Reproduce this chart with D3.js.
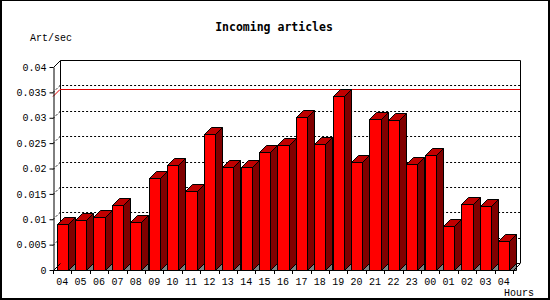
<!DOCTYPE html>
<html>
<head>
<meta charset="utf-8">
<script src="https://cdn.jsdelivr.net/npm/d3@7"></script>
<style>
  html, body { margin: 0; padding: 0; background: #fff; }
  svg { display: block; }
  text { font-family: "Liberation Mono", "DejaVu Sans Mono", monospace; fill: #000; }
</style>
</head>
<body>
<svg id="chart" width="550" height="300"></svg>
<script>
const categories = ["04","05","06","07","08","09","10","11","12","13","14","15","16","17","18","19","20","21","22","23","00","01","02","03","04"];
const values = [0.0090,0.0098,0.0104,0.0128,0.0095,0.0181,0.0207,0.0156,0.0268,0.0202,0.0202,0.0232,0.0246,0.0301,0.0248,0.0343,0.0213,0.0297,0.0295,0.0208,0.0226,0.0087,0.0131,0.0126,0.0057];
const yTicks = [0,0.005,0.01,0.015,0.02,0.025,0.03,0.035,0.04];
const yTickLabels = ["0","0.005","0.01","0.015","0.02","0.025","0.03","0.035","0.04"];
const title = "Incoming articles";
const yTitle = "Art/sec";
const xTitle = "Hours";

const svg = d3.select("#chart");
const D = 7; // 3D depth
const x0 = 53, x1 = 513, yBase = 270, yTop = 67;

const x = d3.scaleBand().domain(d3.range(categories.length)).range([x0, x1]).paddingInner(0.4).paddingOuter(0.2);
const y = d3.scaleLinear().domain([0, 0.04]).range([yBase, yTop]);
const step = x.step();

// outer frame
svg.append("rect").attr("x",0.5).attr("y",0.5).attr("width",548).attr("height",298).attr("fill","none").attr("stroke","#000").attr("stroke-width",1);
svg.append("line").attr("x1",549.5).attr("x2",549.5).attr("y1",0).attr("y2",300).attr("stroke","#000");
svg.append("line").attr("x1",0).attr("x2",550).attr("y1",299.5).attr("y2",299.5).attr("stroke","#000");
svg.append("line").attr("x1",1.5).attr("x2",1.5).attr("y1",0).attr("y2",300).attr("stroke","#000");

// title
svg.append("text").attr("x",274).attr("y",30.5).attr("text-anchor","middle")
  .style("font-family","DejaVu Sans Mono, monospace")
  .style("font-size","11.5px").style("font-weight","bold").text(title);
svg.append("text").attr("x",30).attr("y",40.5).style("font-size","10px").text(yTitle);
svg.append("text").attr("x",504).attr("y",295.5).style("font-size","10px").text(xTitle);

const g = svg.append("g");
const bx0 = x0 + D, bx1 = x1 + D;

// dotted gridlines (diagonal on left wall + horizontal on back wall)
yTicks.slice(1, -1).forEach(v => {
  const yy = Math.round(y(v)) + 0.5;
  g.append("path").attr("d", `M${x0},${yy} L${bx0},${yy - D} L${bx1},${yy - D}`)
    .attr("fill","none").attr("stroke","#000").attr("stroke-dasharray","2,2");
});

// back wall outline
const wallTop = Math.round(y(0.04)) - D + 0.5;
g.append("path").attr("d", `M${bx0 + 0.5},${yBase - D} L${bx0 + 0.5},${wallTop} L${bx1 + 0.5},${wallTop} L${bx1 + 0.5},${yBase - D}`)
  .attr("fill","none").attr("stroke","#000");
g.append("line").attr("x1",bx0).attr("x2",bx1).attr("y1",yBase - D + 0.5).attr("y2",yBase - D + 0.5).attr("stroke","#000");

// max line (red)
const maxV = d3.max(values);
const my = Math.round(y(maxV)) + 0.5;
g.append("path").attr("d", `M${x0},${my} L${bx0},${my - D} L${bx1},${my - D}`)
  .attr("fill","none").attr("stroke","#e00000");

// bars
const bars = g.selectAll("g.bar").data(values).join("g").attr("class","bar");
bars.each(function(v, i) {
  const gb = d3.select(this);
  const l = Math.round(x(i)) + 0.5;
  const r = Math.round(x(i) + x.bandwidth()) + 0.5;
  const t = Math.round(y(v)) + 0.5;
  const b = yBase + 0.5;
  gb.append("path").attr("d", `M${r},${b} L${r + D},${b - D} L${r + D},${b} Z`)
    .attr("fill","#808080").attr("stroke","#000");
  gb.append("path").attr("d", `M${r},${t} L${r + D},${t - D} L${r + D},${b - D} L${r},${b} Z`)
    .attr("fill","#800000").attr("stroke","#000");
  gb.append("path").attr("d", `M${l},${t} L${l + D},${t - D} L${r + D},${t - D} L${r},${t} Z`)
    .attr("fill","#c00000").attr("stroke","#000");
  gb.append("rect").attr("x",l).attr("y",t).attr("width",r - l).attr("height",b - t)
    .attr("fill","#ff0000").attr("stroke","#000");
});

// left wall top diagonal and floor diagonals
g.append("line").attr("x1",x0 + 0.5).attr("y1",yTop + 0.5).attr("x2",bx0 + 0.5).attr("y2",yTop - D + 0.5).attr("stroke","#000");
g.append("line").attr("x1",x0 + 0.5).attr("y1",yBase + 0.5).attr("x2",bx0 + 0.5).attr("y2",yBase - D + 0.5).attr("stroke","#000");
g.append("line").attr("x1",x1 + 0.5).attr("y1",yBase + 0.5).attr("x2",bx1 + 0.5).attr("y2",yBase - D + 0.5).attr("stroke","#000");

// y axis
const yAxis = d3.axisLeft(y).tickValues(yTicks).tickSizeInner(4).tickSizeOuter(0).tickPadding(3)
  .tickFormat((d, i) => yTickLabels[i]);
const ya = svg.append("g").attr("transform", `translate(${x0 + 0.5},0)`).call(yAxis);
ya.selectAll("text").style("font-size","10px").style("font-family","Liberation Mono, monospace");
ya.select(".domain").attr("stroke","#000");

// x axis line
svg.append("line").attr("x1",x0).attr("x2",x1 + 1).attr("y1",yBase + 0.5).attr("y2",yBase + 0.5).attr("stroke","#000");
// x ticks at band boundaries
const xa = svg.append("g");
d3.range(categories.length + 1).forEach(i => {
  const xx = Math.round(x0 + i * step) + 0.5;
  xa.append("line").attr("x1",xx).attr("x2",xx).attr("y1",yBase).attr("y2",yBase + 4).attr("stroke","#000");
});
xa.selectAll("text").data(categories).join("text")
  .attr("x",(d, i) => x(i) + x.bandwidth() / 2)
  .attr("y",284.5)
  .attr("text-anchor","middle")
  .style("font-size","10px")
  .text(d => d);
</script>
</body>
</html>
